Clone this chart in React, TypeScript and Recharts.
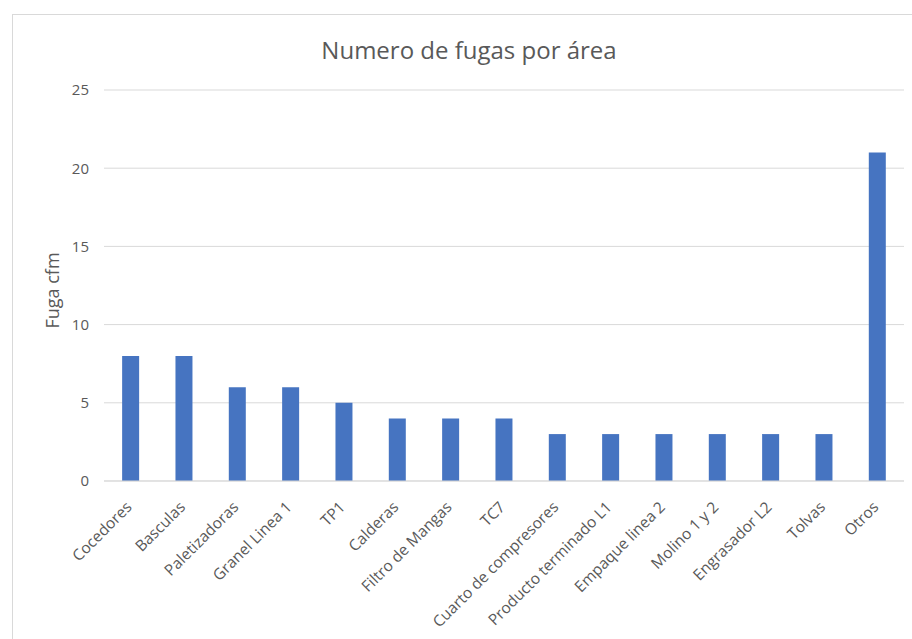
import React from 'react';
import { BarChart, Bar, XAxis, YAxis, CartesianGrid } from 'recharts';

const areas = [
  'Cocedores',
  'Basculas',
  'Paletizadoras',
  'Granel Linea 1',
  'TP1',
  'Calderas',
  'Filtro de Mangas',
  'TC7',
  'Cuarto de compresores',
  'Producto terminado L1',
  'Empaque linea 2',
  'Molino 1 y 2',
  'Engrasador L2',
  'Tolvas',
  'Otros',
];
const fugas = [8, 8, 6, 6, 5, 4, 4, 4, 3, 3, 3, 3, 3, 3, 21];
const yTicks = [0, 5, 10, 15, 20, 25];

const chartData = areas.map((area, i) => ({ area, fugas: fugas[i] }));

const FONT = '"Open Sans", sans-serif';
const TEXT = '#595959';

// category labels slanted at 45 degrees, anchored at their end
const RotatedTick = (props: any) => {
  const { x, y, payload } = props;
  return (
    <g transform={`translate(${x},${y})`}>
      <text
        x={0}
        y={0}
        dy={3}
        textAnchor="end"
        transform="rotate(-45)"
        fill={TEXT}
        fontSize={15.5}
        fontFamily={FONT}
      >
        {payload.value}
      </text>
    </g>
  );
};

const App: React.FC = () => {
  return (
    <div style={{ position: 'absolute', left: 0, top: 0, width: 912, height: 639, background: '#fff', overflow: 'hidden' }}>
      <div
        style={{
          position: 'absolute',
          left: 12,
          top: 14,
          width: 960,
          height: 700,
          border: '1px solid #d9d9d9',
          boxSizing: 'border-box',
        }}
      />
      <div
        style={{
          position: 'absolute',
          left: 0,
          width: 938,
          top: 34,
          textAlign: 'center',
          fontFamily: FONT,
          fontSize: 24,
          color: TEXT,
          lineHeight: '32px',
        }}
      >
        Numero de fugas por área
      </div>
      <div style={{ position: 'absolute', left: 0, top: 0 }}>
        <BarChart
          width={912}
          height={639}
          data={chartData}
          margin={{ top: 90, right: 8, left: 44, bottom: 8 }}
          barCategoryGap="34%"
        >
          <CartesianGrid vertical={false} stroke="#d9d9d9" />
          <XAxis
            dataKey="area"
            interval={0}
            height={150}
            tickLine={false}
            axisLine={{ stroke: '#d9d9d9' }}
            tick={<RotatedTick />}
            tickSize={0}
            tickMargin={25}
          />
          <YAxis
            width={60}
            domain={[0, 25]}
            ticks={yTicks}
            tickLine={false}
            axisLine={false}
            tickSize={0}
            tickMargin={15}
            tick={{ fill: TEXT, fontSize: 15, fontFamily: FONT }}
            label={{
              value: 'Fuga cfm',
              angle: -90,
              position: 'insideLeft',
              offset: 9,
              dy: 5,
              style: { fill: TEXT, fontSize: 18, fontFamily: FONT, textAnchor: 'middle' },
            }}
          />
          <Bar dataKey="fugas" fill="#4674c1" isAnimationActive={false} />
        </BarChart>
      </div>
    </div>
  );
};

export default App;
